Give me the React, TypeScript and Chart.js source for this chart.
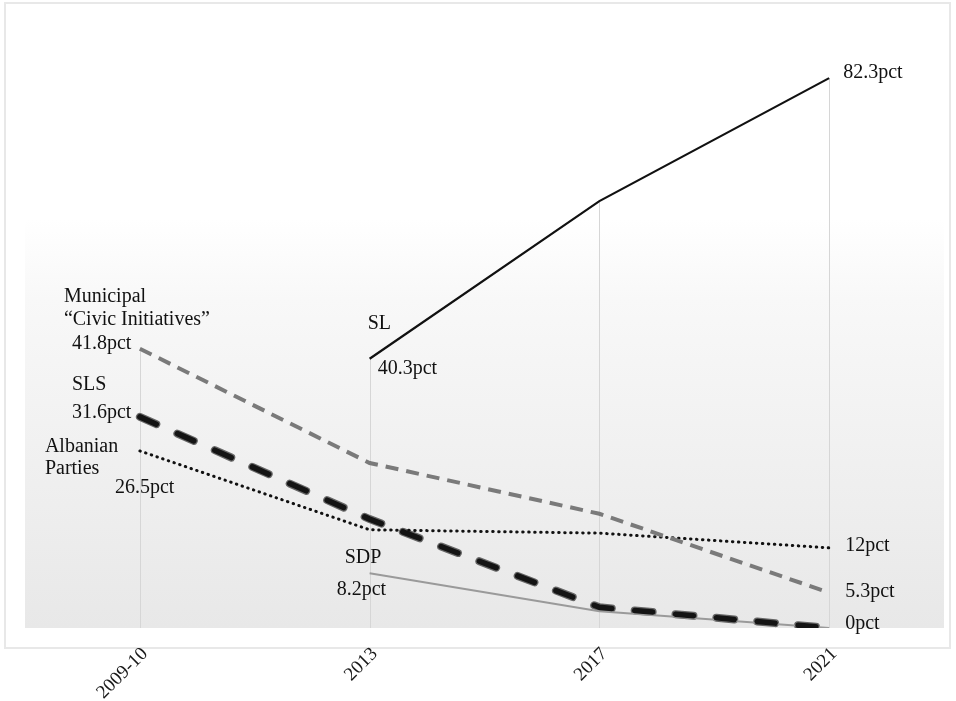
import React, { useEffect, useRef } from "react";
import { Chart, registerables } from "chart.js";

Chart.register(...registerables);

const categories = ["2009-10", "2013", "2017", "2021"];
const slValues = [null, 40.3, 63.9, 82.3];
const civicValues = [41.8, 24.7, 17.1, 5.3];
const slsValues = [31.6, 16.3, 3.1, 0];
const albanianValues = [26.5, 14.7, 14.2, 12];
const sdpValues = [null, 8.2, 2.5, 0];
const yMax = 92.8;

// annotation texts: [datasetIndex, categoryIndex, text, dx, dy]
const annotations: [number, number, string, number, number][] = [
  [1, 0, "Municipal", -76, -47],
  [1, 0, "\u201cCivic Initiatives\u201d", -76, -24],
  [1, 0, "41.8pct", -68, 0],
  [2, 0, "SLS", -68, -27],
  [2, 0, "31.6pct", -68, 1],
  [3, 0, "Albanian", -95, 1],
  [3, 0, "Parties", -95, 23],
  [3, 0, "26.5pct", -25, 42],
  [0, 1, "SL", -2, -30],
  [0, 1, "40.3pct", 8, 15],
  [4, 1, "SDP", -25, -10],
  [4, 1, "8.2pct", -33, 22],
  [0, 3, "82.3pct", 14, 0],
  [3, 3, "12pct", 16, 3],
  [1, 3, "5.3pct", 16, 4],
  [2, 3, "0pct", 16, 1],
];

const SERIF = "'Liberation Serif', 'Times New Roman', serif";

const backgroundPlugin = {
  id: "bgPlugin",
  beforeDraw(chart: any) {
    const { ctx, chartArea } = chart;
    const { left, right, top, bottom } = chartArea;
    ctx.save();
    ctx.fillStyle = "#ffffff";
    ctx.fillRect(0, 0, chart.width, chart.height);
    // frame
    ctx.strokeStyle = "#e8e8e8";
    ctx.lineWidth = 2;
    ctx.strokeRect(left - 20, top - 5, right - left + 26, bottom - top + 25);
    // gradient
    const g = ctx.createLinearGradient(0, top, 0, bottom);
    g.addColorStop(0, "#ffffff");
    g.addColorStop(0.34, "#ffffff");
    g.addColorStop(0.47, "#f8f8f8");
    g.addColorStop(1, "#e8e8e8");
    ctx.fillStyle = g;
    ctx.fillRect(left, top, right - left, bottom - top);
    ctx.restore();
  },
  beforeDatasetsDraw(chart: any) {
    const { ctx, chartArea, scales } = chart;
    const x = scales.x;
    const y = scales.y;
    ctx.save();
    ctx.strokeStyle = "#d6d6d6";
    ctx.lineWidth = 1;
    categories.forEach((_, i) => {
      let maxV = -Infinity;
      chart.data.datasets.forEach((ds: any) => {
        const v = ds.data[i];
        if (v !== null && v !== undefined && v > maxV) maxV = v;
      });
      const px = Math.round(x.getPixelForValue(i)) + 0.5;
      ctx.beginPath();
      ctx.moveTo(px, y.getPixelForValue(maxV));
      ctx.lineTo(px, chartArea.bottom);
      ctx.stroke();
    });
    ctx.restore();
  },
  afterDatasetsDraw(chart: any) {
    const { ctx, scales } = chart;
    ctx.save();
    ctx.font = `20px ${SERIF}`;
    ctx.fillStyle = "#111111";
    ctx.textAlign = "left";
    ctx.textBaseline = "alphabetic";
    annotations.forEach(([di, ci, text, dx, dy]) => {
      const v = chart.data.datasets[di].data[ci];
      const px = scales.x.getPixelForValue(ci);
      const py = scales.y.getPixelForValue(v);
      ctx.fillText(text, px + dx, py + dy);
    });
    ctx.restore();
  },
};

export default function App() {
  const ref = useRef<HTMLCanvasElement | null>(null);
  useEffect(() => {
    if (!ref.current) return;
    const chart = new Chart(ref.current, {
      type: "line",
      data: {
        labels: categories,
        datasets: [
          {
            label: "SL",
            data: slValues,
            borderColor: "#111111",
            borderWidth: 2.2,
            pointRadius: 0,
            tension: 0,
          },
          {
            label: "Municipal Civic Initiatives",
            data: civicValues,
            borderColor: "#7a7a7a",
            borderWidth: 4,
            borderDash: [13, 8],
            pointRadius: 0,
          },
          {
            label: "SLS",
            data: slsValues,
            borderColor: "#141414",
            borderWidth: 5.5,
            borderDash: [18, 23],
            borderCapStyle: "round",
            pointRadius: 0,
          },
          {
            label: "Albanian Parties",
            data: albanianValues,
            borderColor: "#111111",
            borderWidth: 3,
            borderDash: [0.5, 5.5],
            borderCapStyle: "round",
            pointRadius: 0,
          },
          {
            label: "SDP",
            data: sdpValues,
            borderColor: "#9a9a9a",
            borderWidth: 2,
            pointRadius: 0,
          },
          {
            label: "SLS rim",
            data: slsValues,
            borderColor: "#666666",
            borderWidth: 8,
            borderDash: [18, 23],
            borderCapStyle: "round",
            pointRadius: 0,
          },
        ],
      },
      options: {
        animation: false,
        responsive: false,
        events: [],
        layout: { padding: { left: 25, right: 12, top: 8, bottom: 0 } },
        plugins: {
          legend: { display: false },
          tooltip: { enabled: false },
        },
        scales: {
          x: {
            type: "category",
            offset: true,
            grid: { display: false, drawTicks: false },
            border: { display: false },
            ticks: {
              font: { family: SERIF, size: 19 },
              color: "#1a1a1a",
              minRotation: 45,
              maxRotation: 45,
              padding: 15,
              labelOffset: 5,
            },
            afterFit: (scale: any) => {
              scale.height = 73;
            },
          },
          y: {
            display: false,
            min: 0,
            max: yMax,
          },
        },
      },
      plugins: [backgroundPlugin],
    });
    return () => chart.destroy();
  }, []);
  return (
    <div style={{ position: "fixed", left: 0, top: 0, width: 956, height: 701 }}>
      <canvas ref={ref} width={956} height={701} />
    </div>
  );
}
